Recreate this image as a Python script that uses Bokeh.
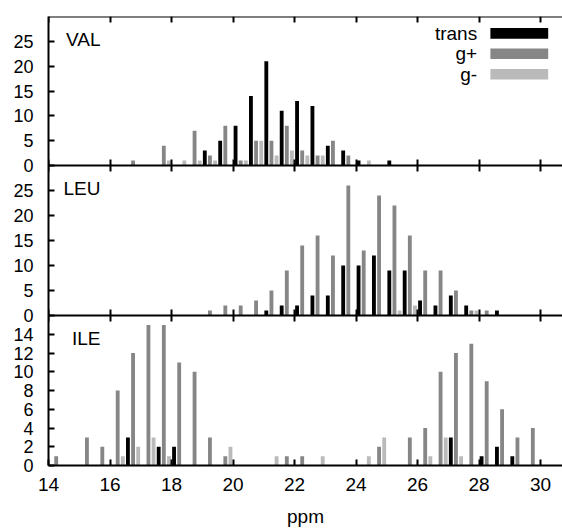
from bokeh.plotting import figure
from bokeh.models import Range1d, FixedTicker, LinearAxis, Label, BoxAnnotation, ColumnDataSource
from bokeh.transform import dodge
from bokeh.embed import file_html
from bokeh.resources import INLINE

# ---------------- data (counts per 0.5 ppm bin) ----------------
ppm_bins = [14.25, 14.75, 15.25, 15.75, 16.25, 16.75, 17.25, 17.75, 18.25, 18.75,
            19.25, 19.75, 20.25, 20.75, 21.25, 21.75, 22.25, 22.75, 23.25, 23.75,
            24.25, 24.75, 25.25, 25.75, 26.25, 26.75, 27.25, 27.75, 28.25, 28.75,
            29.25, 29.75]

val_trans  = [0, 0, 0, 0, 0, 0, 0, 0, 0, 0,  3, 5, 8, 14, 21, 11, 13, 12, 4, 3,  1, 0, 1, 0, 0, 0, 0, 0, 0, 0,  0, 0]
val_gplus  = [0, 0, 0, 0, 0, 1, 0, 4, 0, 7,  2, 8, 1, 5, 5, 8, 3, 2, 5, 2,  0, 0, 0, 0, 0, 0, 0, 0, 0, 0,  0, 0]
val_gminus = [0, 0, 0, 0, 0, 0, 0, 1, 1, 1,  1, 0, 1, 5, 2, 3, 2, 2, 0, 0,  1, 0, 0, 0, 0, 0, 0, 0, 0, 0,  0, 0]

leu_trans  = [0, 0, 0, 0, 0, 0, 0, 0, 0, 0,  0, 0, 0, 0, 1, 2, 2, 4, 4, 10,  10, 12, 9, 9, 3, 2, 4, 2, 0, 1,  0, 0]
leu_gplus  = [0, 0, 0, 0, 0, 0, 0, 0, 0, 0,  1, 2, 2, 3, 5, 9, 14, 16, 12, 26,  13, 24, 22, 16, 9, 9, 5, 1, 1, 0,  0, 0]
leu_gminus = [0, 0, 0, 0, 0, 0, 0, 0, 0, 0,  0, 0, 0, 0, 0, 0, 0, 0, 0, 0,  0, 0, 1, 2, 0, 0, 0, 1, 0, 0,  0, 0]

ile_trans  = [0, 0, 0, 0, 0, 3, 0, 2, 2, 0,  0, 0, 0, 0, 0, 0, 0, 0, 0, 0,  0, 0, 0, 0, 0, 0, 3, 0, 1, 2,  1, 0]
ile_gplus  = [1, 0, 3, 2, 8, 12, 15, 15, 11, 10,  3, 1, 0, 0, 0, 1, 1, 0, 0, 0,  0, 2, 0, 3, 4, 10, 12, 13, 9, 6,  3, 4]
ile_gminus = [0, 0, 0, 0, 1, 2, 3, 1, 0, 0,  0, 2, 0, 0, 1, 0, 0, 1, 0, 0,  1, 3, 0, 0, 1, 3, 1, 0, 0, 0,  0, 0]

series_names = ["trans", "g+", "g-"]
panel_names = ["VAL", "LEU", "ILE"]
x_ticks = [14, 16, 18, 20, 22, 24, 26, 28, 30]
y_ticks_val = [0, 5, 10, 15, 20, 25]
y_ticks_leu = [0, 5, 10, 15, 20, 25]
y_ticks_ile = [0, 2, 4, 6, 8, 10, 12, 14]

# ---------------- style / layout ----------------
FONT = "Liberation Sans"
C_TRANS = "#000000"
C_GPLUS = "#868686"
C_GMINUS = "#bababa"
BAR_W = 0.125
OFF = 0.167

# frame is 449 px tall: ILE = lower 150 px, LEU = middle 150 px, VAL = top 149 px.
# The default y range is in ILE units (9.375 px per count).
PX_ILE = 9.375
PX_LEU = 5.0
PX_VAL = 149 / 30.0
FRAME_TOP = 449 / PX_ILE
ILE_TOP = 150 / PX_ILE          # = 16 counts
LEU_BASE = ILE_TOP              # LEU zero line in ILE units
VAL_BASE = 300 / PX_ILE         # VAL zero line in ILE units
x_range = Range1d(14, 30.715)

p = figure(width=562, height=529, x_range=x_range, y_range=Range1d(0, FRAME_TOP),
           output_backend="svg", toolbar_location=None,
           x_axis_type=None, y_axis_type=None,
           min_border_left=48, min_border_right=0, min_border_top=16, min_border_bottom=64)
p.outline_line_color = None
p.xgrid.visible = False
p.ygrid.visible = False
p.extra_y_ranges = {
    "leu": Range1d(-150 / PX_LEU, (449 - 150) / PX_LEU),
    "val": Range1d(-300 / PX_VAL, 30),
}


def base_axis(ax, ticks):
    ax.ticker = FixedTicker(ticks=ticks)
    ax.axis_line_width = 2
    ax.axis_line_color = "black"
    ax.major_tick_line_width = 2
    ax.major_tick_line_color = "black"
    ax.major_tick_in = 6
    ax.major_tick_out = 0
    ax.minor_tick_line_color = None
    ax.major_label_text_font = FONT
    ax.major_label_text_color = "black"


def bars(trans, gplus, gminus, rname):
    src = ColumnDataSource(dict(ppm=ppm_bins, trans=trans, gplus=gplus, gminus=gminus))
    kw = dict(source=src, width=BAR_W, line_color=None)
    if rname:
        kw["y_range_name"] = rname
    p.vbar(x=dodge("ppm", -OFF, range=x_range), top="trans", fill_color=C_TRANS, **kw)
    p.vbar(x="ppm", top="gplus", fill_color=C_GPLUS, **kw)
    p.vbar(x=dodge("ppm", OFF, range=x_range), top="gminus", fill_color=C_GMINUS, **kw)


bars(val_trans, val_gplus, val_gminus, "val")
bars(leu_trans, leu_gplus, leu_gminus, "leu")
bars(ile_trans, ile_gplus, ile_gminus, None)

# one left axis for all three panels: tick positions mapped into ILE units, labelled with counts
tick_pos, tick_lab = [], {}
for v in y_ticks_ile:
    pos = float(v)
    tick_pos.append(pos); tick_lab[pos] = str(v)
for v in y_ticks_leu:
    pos = LEU_BASE + v * PX_LEU / PX_ILE
    tick_pos.append(pos); tick_lab[pos] = str(v)
for v in y_ticks_val:
    pos = VAL_BASE + v * PX_VAL / PX_ILE
    tick_pos.append(pos); tick_lab[pos] = str(v)

left = LinearAxis()
base_axis(left, tick_pos)
left.major_label_overrides = tick_lab
left.major_label_text_font_size = "18px"
left.major_label_standoff = 15
p.add_layout(left, "left")

# bottom axis with labels
bot = LinearAxis(axis_label="ppm")
base_axis(bot, x_ticks)
bot.major_label_text_font_size = "19px"
bot.major_label_standoff = 12
bot.axis_label_text_font = FONT
bot.axis_label_text_font_size = "19px"
bot.axis_label_text_font_style = "normal"
bot.axis_label_text_color = "black"
bot.axis_label_standoff = 12
p.add_layout(bot, "below")

# panel borders with ticks (no labels)
for loc, tin, tout, side in [(LEU_BASE, 6, 6, "below"), (VAL_BASE, 6, 6, "below"), (FRAME_TOP, 6, 0, "above")]:
    ax = LinearAxis(fixed_location=loc)
    base_axis(ax, x_ticks)
    ax.major_tick_in = tin
    ax.major_tick_out = tout
    ax.major_label_text_color = None
    p.add_layout(ax, side)

# panel names
for nm, rname, yy in zip(panel_names, ["val", "leu", "default"], [25.3, 25.4, 13.55]):
    p.add_layout(Label(x=15.69, y=yy, y_range_name=rname, text=nm, text_align="right",
                       text_baseline="middle", text_font=FONT, text_font_size="19px",
                       text_color="black"))

# legend (text left, swatch right) in the VAL panel
legend_y = [26.6, 22.5, 18.37]
legend_colors = [C_TRANS, C_GPLUS, C_GMINUS]
for nm, yy, col in zip(series_names, legend_y, legend_colors):
    p.add_layout(Label(x=27.94, y=yy, y_range_name="val", text=nm, text_align="right",
                       text_baseline="middle", text_font=FONT, text_font_size="19px",
                       text_color="black"))
    p.add_layout(BoxAnnotation(left=28.37, right=30.25, bottom=yy - 1.07, top=yy + 1.07,
                               y_range_name="val", fill_color=col, fill_alpha=1.0,
                               line_color=None))

open("out.html", "w").write(file_html(p, INLINE))
